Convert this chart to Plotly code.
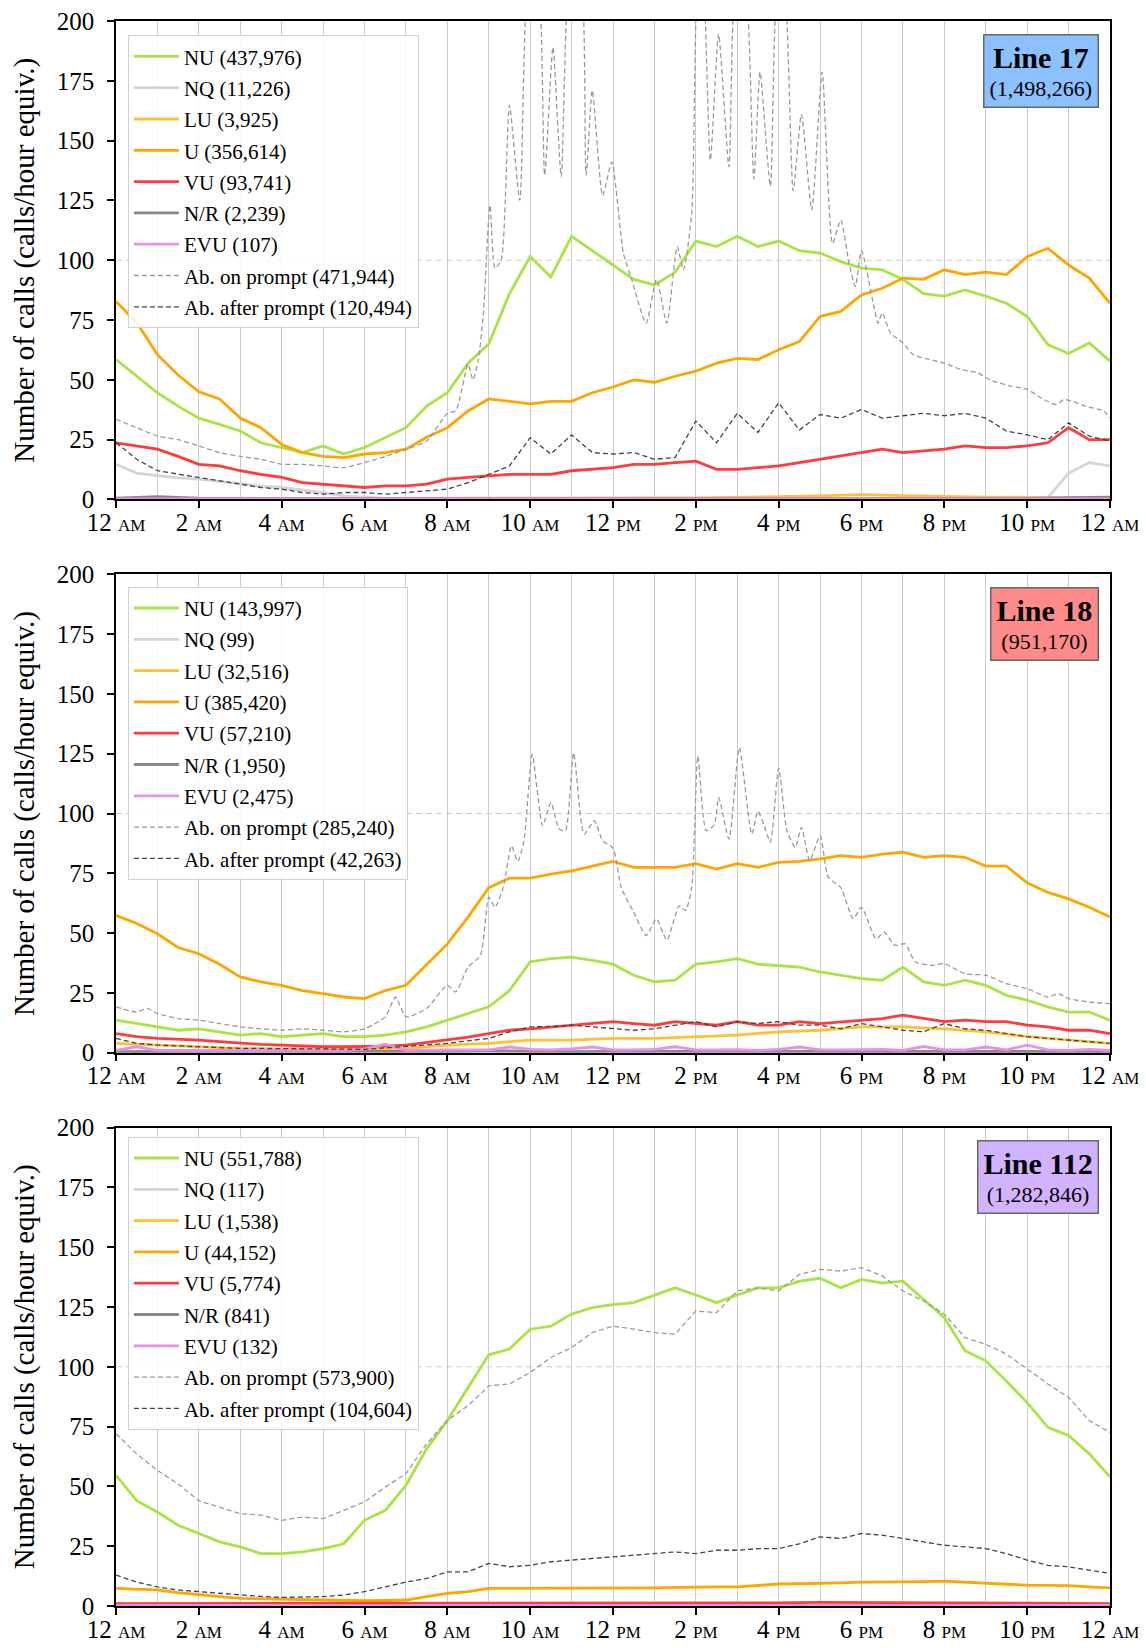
import plotly.graph_objects as go
from plotly.subplots import make_subplots

# ---------------- time grids (hours after midnight) ----------------
HOURS = [0, 0.5, 1, 1.5, 2, 2.5, 3, 3.5, 4, 4.5, 5, 5.5, 6, 6.5, 7, 7.5, 8, 8.5, 9, 9.5,
         10, 10.5, 11, 11.5, 12, 12.5, 13, 13.5, 14, 14.5, 15, 15.5, 16, 16.5, 17, 17.5,
         18, 18.5, 19, 19.5, 20, 20.5, 21, 21.5, 22, 22.5, 23, 23.5, 24]
HOURS_1H = [0, 1, 2, 3, 4, 5, 6, 7, 8, 9, 10, 11, 12, 13, 14, 15, 16, 17, 18, 19, 20, 21, 22, 23, 24]

TICK_HOURS = [0, 2, 4, 6, 8, 10, 12, 14, 16, 18, 20, 22, 24]
TICK_NUM = ["12", "2", "4", "6", "8", "10", "12", "2", "4", "6", "8", "10", "12"]
TICK_SUFFIX = ["AM", "AM", "AM", "AM", "AM", "AM", "PM", "PM", "PM", "PM", "PM", "PM", "AM"]
Y_TICKS = [0, 25, 50, 75, 100, 125, 150, 175, 200]

SERIES = ["NU", "NQ", "LU", "U", "VU", "N/R", "EVU", "Ab. on prompt", "Ab. after prompt"]

# ---------------- Line 17 ----------------
L17_TITLE = "Line 17"
L17_TOTAL = "1,498,266"
L17_COUNTS = ["437,976", "11,226", "3,925", "356,614", "93,741", "2,239", "107", "471,944", "120,494"]
L17_NU = [58.5, 51.5, 44.6, 39, 34, 31.4, 28.6, 23.7, 21.7, 19.6, 22.4, 19, 21.7, 25.8, 30, 39,
          44.6, 57, 65, 86, 101.5, 93, 110, 104, 98, 92, 89.7, 95, 108, 105.7, 110, 105.7,
          108, 104, 103, 99.4, 96.7, 96, 92, 86, 85, 87.6, 85, 82, 76.5, 64.7, 61, 65.4, 57.8]
L17_U = [82.8, 74, 60.5, 52, 45, 42, 34, 30, 23, 19.6, 18, 17.5, 19, 19.6, 21, 26, 30, 37, 42,
         41, 40, 41, 41, 44.6, 47, 50, 49, 51.5, 53.6, 57, 59, 58.5, 62.6, 66, 76.5, 78.6, 85.5,
         88.3, 92.5, 92, 96, 94, 95, 94, 101.5, 105, 98, 92.5, 82]
L17_VU = [23.7, 22.4, 21, 18, 14.7, 14, 12, 10.5, 9.2, 7, 6.4, 5.7, 5, 5.7, 5.7, 6.4, 8.5, 9.2,
          10, 10.5, 10.5, 10.5, 12, 12.6, 13.3, 14.7, 14.7, 15.4, 16, 12.6, 12.6, 13.3, 14,
          15.4, 16.8, 18.2, 19.6, 21, 19.6, 20.3, 21, 22.4, 21.7, 21.7, 22.4, 23.7, 30, 25, 25]
L17_NQ = [14.7, 11, 10, 9, 8.5, 7.5, 6.4, 5.6, 5, 4, 2.9, 1.5, 0.8, 0.4, 0.3, 0.3, 0.3, 0.3,
          0.3, 0.3, 0.3, 0.3, 0.3, 0.3, 0.3, 0.3, 0.3, 0.3, 0.3, 0.3, 0.3, 0.3, 0.3, 0.3, 0.3,
          0.3, 0.3, 0.3, 0.3, 0.3, 0.3, 0.3, 0.3, 0.3, 0.3, 0.8, 11, 15.4, 14]
L17_LU = [0.3, 0.3, 0.3, 0.3, 0.3, 0.3, 0.3, 0.3, 0.3, 0.4, 0.4, 0.5, 0.5, 0.6, 0.7, 0.8, 1.2,
          1.5, 2, 1.6, 1.2, 1, 0.9, 0.8, 0.5]
L17_NR = [0.5, 1.2, 0.5, 0.3, 0.3, 0.3, 0.3, 0.3, 0.3, 0.3, 0.3, 0.3, 0.3, 0.3, 0.3, 0.3, 0.3,
          0.3, 0.3, 0.3, 0.3, 0.3, 0.4, 0.8, 1.0]
L17_EVU = [0.2, 0.2, 0.2, 0.2, 0.2, 0.2, 0.2, 0.2, 0.2, 0.2, 0.2, 0.2, 0.2, 0.2, 0.2, 0.2, 0.2,
           0.2, 0.2, 0.2, 0.2, 0.2, 0.2, 0.2, 0.2]
L17_ABA = [23.7, 16.8, 12, 10.5, 9.2, 7.8, 6.4, 5, 4.3, 2.9, 2.2, 2.9, 2.9, 2.2, 2.9, 3.6, 4.3,
           7, 10.5, 14, 25.8, 19, 27, 19.6, 19, 19.6, 16.8, 17.5, 32.8, 23.7, 36, 28, 40.4, 29,
           35.5, 34, 37.6, 34, 35, 36, 35, 36, 34, 28.6, 27, 25, 32, 26.5, 24.4]
L17_ABO_T = [0, 0.5, 1, 1.5, 2, 2.5, 3, 3.5, 4, 4.5, 5, 5.5, 6, 6.5, 7, 7.5, 8, 8.2, 8.35, 8.5,
             8.62, 8.75, 8.87, 9.03, 9.15, 9.3, 9.5, 9.75, 10.0, 10.15, 10.35, 10.55, 10.75,
             11.0, 11.2, 11.35, 11.5, 11.75, 11.97, 12.25, 12.45, 12.8, 13.05, 13.3, 13.55,
             13.7, 13.9, 14.05, 14.15, 14.35, 14.55, 14.8, 15.0, 15.15, 15.4, 15.55, 15.8, 16.0,
             16.1, 16.35, 16.55, 16.8, 17.05, 17.3, 17.5, 17.7, 17.85, 18.0, 18.3, 18.4, 18.5,
             18.7, 19.0, 19.25, 19.65, 20.0, 20.4, 20.8, 21.1, 21.6, 22.0, 22.4, 22.7, 22.9,
             23.4, 23.85, 24]
L17_ABO = [33.5, 30, 26.5, 25, 22.4, 19.6, 18, 16.8, 14.7, 14.7, 14, 13.3, 15.4, 18, 21, 24.4,
           36, 37, 46, 56.6, 50, 58.5, 77.6, 123, 96.7, 100, 164.7, 125, 225, 225, 135.6, 189,
           135, 228, 225, 135.6, 171, 127, 141, 103, 92, 73.7, 92, 73.7, 105.7, 96, 119.6, 220,
           225, 141.8, 194.6, 139, 222, 222, 134, 178.6, 131, 220, 220, 129, 161, 121, 178.6,
           107, 116.8, 98.7, 89, 104, 80.7, 73.7, 78, 69.6, 65.4, 60.5, 58.5, 57, 54.3, 53, 50,
           47.4, 46, 41.8, 39.7, 41.8, 39, 37, 34]

# ---------------- Line 18 ----------------
L18_TITLE = "Line 18"
L18_TOTAL = "951,170"
L18_COUNTS = ["143,997", "99", "32,516", "385,420", "57,210", "1,950", "2,475", "285,240", "42,263"]
L18_NU = [13.6, 12.2, 10.8, 9.4, 10, 8.75, 7.4, 8, 6.7, 7.4, 8, 6.7, 6.7, 7.4, 8.75, 10.8, 13.6,
          16.4, 19.2, 26, 38, 39.3, 40, 38.6, 37, 32.4, 29.6, 30.3, 37, 38, 39.3, 37, 36.5, 35.8,
          33.75, 32.4, 31, 30.3, 35.8, 29.6, 28.2, 30.3, 28.2, 24, 22, 19.2, 17, 17, 13.6]
L18_U = [57.4, 54, 49.7, 44, 41.4, 37, 31.7, 29.6, 28.2, 26, 24.7, 23.3, 22.6, 26, 28.2, 37,
         45.5, 56.7, 69, 73, 73, 74.7, 76, 78, 80, 77.5, 77.5, 77.5, 79, 76.8, 79, 77.5, 79.6,
         80, 81, 82.4, 81.7, 83, 83.8, 81.7, 82.4, 81.7, 78, 78, 71, 67, 64.3, 60.8, 56.7]
L18_VU = [8, 6.7, 6, 5.7, 5.3, 4.6, 3.9, 3.5, 3.2, 2.8, 2.5, 2.5, 2.5, 2.8, 3.2, 4.2, 5.3, 6.5,
          8, 9.4, 10, 10.8, 11.5, 12.2, 13, 12.2, 11.5, 13, 12.2, 11.5, 13, 11.5, 11.5, 13, 12.2,
          13, 13.6, 14.3, 15.7, 14.3, 13, 13.6, 13, 13, 11.5, 10.8, 9.4, 9.4, 8]
L18_LU = [3.9, 3.2, 2.5, 1.8, 1.5, 1.4, 1.5, 1.8, 3.2, 3.9, 5.3, 5.3, 6, 6, 6.7, 7.4, 8.75, 9.4,
          10.8, 10.8, 10, 8.75, 6.7, 5.3, 3.9]
L18_NQ = [0.1, 0.1, 0.1, 0.1, 0.1, 0.1, 0.1, 0.1, 0.1, 0.1, 0.1, 0.1, 0.1, 0.1, 0.1, 0.1, 0.1,
          0.1, 0.1, 0.1, 0.1, 0.1, 0.1, 0.1, 0.1]
L18_NR = [0.5, 0.5, 0.5, 0.4, 0.4, 0.4, 0.4, 0.5, 0.6, 0.8, 0.6, 0.5, 0.6, 0.6, 0.5, 0.6, 0.7,
          0.6, 0.6, 0.5, 0.6, 0.5, 0.5, 0.5, 0.5]
L18_EVU = [1, 2.5, 1, 1, 0.8, 0.8, 0.8, 0.8, 0.8, 1, 1, 1, 1.5, 3.6, 1, 1.2, 1.2, 1.2, 1.2, 2.4,
           1.4, 1.2, 1.6, 2.4, 1.2, 1.2, 1.4, 2.5, 1.2, 1.2, 1.3, 1, 1.4, 2.4, 1.2, 1.2, 1.3,
           1.4, 1, 2.6, 1.2, 1.2, 2.4, 1.2, 3.2, 1.2, 1, 1.4, 1]
L18_ABA = [6, 3.9, 3.2, 2.8, 2.5, 2.1, 1.8, 1.8, 1.8, 1.6, 1.5, 1.5, 1.4, 2, 2.5, 3.2, 3.9, 5,
           6, 8.75, 10.8, 11, 11.5, 10.8, 10, 9.4, 10, 11.5, 13, 10.8, 13, 12.2, 13, 11.5, 11.5,
           10, 12.2, 10.8, 9.4, 8.75, 12.2, 10, 9.4, 8, 6.7, 6, 5.3, 4.6, 3.9]
L18_ABO_T = [0, 0.5, 0.75, 1, 1.5, 2, 2.5, 3, 3.5, 4, 4.5, 5, 5.5, 6, 6.5, 6.75, 7, 7.5, 8, 8.2,
             8.5, 8.8, 9.0, 9.15, 9.35, 9.55, 9.7, 9.85, 10.05, 10.3, 10.5, 10.7, 10.85, 11.05,
             11.3, 11.55, 11.75, 12.0, 12.2, 12.5, 12.8, 13.05, 13.3, 13.6, 13.75, 13.9, 14.05,
             14.25, 14.45, 14.55, 14.8, 15.05, 15.35, 15.5, 15.65, 15.8, 16.0, 16.2, 16.4,
             16.55, 16.75, 17.0, 17.2, 17.5, 17.8, 18.0, 18.35, 18.55, 18.8, 19.05, 19.3, 19.7,
             20.0, 20.5, 21.0, 21.5, 22.0, 22.5, 22.75, 23.0, 23.5, 24]
L18_ABO = [19.2, 17, 18.5, 16.4, 14.3, 13.6, 12.2, 10.8, 10, 9.4, 10, 9.4, 8.75, 10, 15, 23.3,
           15, 18.5, 28.2, 25.4, 35.8, 40.7, 65, 60.8, 69, 86.5, 80, 88.6, 124.7, 94.9, 104.6,
           93.5, 92.8, 125.4, 91.4, 97, 88.6, 85.5, 69, 58.8, 49, 56, 47, 61.5, 59.4, 69, 124,
           92.8, 95.5, 106.7, 89.3, 127.5, 91.4, 101, 94.9, 88, 119, 92.8, 85.8, 94.2, 80.3,
           90.7, 73.3, 69, 56, 60.8, 47.6, 50.4, 44.9, 45.5, 38, 36.5, 37.2, 33, 32.4, 28.9,
           26.8, 23.3, 24.7, 22.6, 21.2, 20.5]

# ---------------- Line 112 ----------------
L112_TITLE = "Line 112"
L112_TOTAL = "1,282,846"
L112_COUNTS = ["551,788", "117", "1,538", "44,152", "5,774", "841", "132", "573,900", "104,604"]
L112_NU = [54.6, 44, 39.3, 33.75, 30.3, 26.8, 24.7, 21.9, 21.9, 22.6, 24, 26, 35.8, 40, 50.4,
           65.7, 77.5, 91.4, 105, 107.4, 115.7, 117, 122, 124.7, 126, 126.8, 130, 133, 130,
           126.8, 130, 133, 133, 135.8, 137, 133, 136.5, 135, 135.8, 128, 120.5, 106.7, 102.5,
           94, 85, 74.7, 71.3, 63.6, 54]
L112_U = [7.4, 7, 6.7, 5.6, 4.6, 3.9, 3.2, 3, 2.9, 2.7, 2.5, 2.3, 2.2, 2.3, 2.5, 3.9, 5.3, 6, 7.4,
          7.4, 7.4, 7.4, 7.4, 7.5, 7.6, 7.6, 7.6, 7.8, 8, 8, 8, 8.6, 9.2, 9.3, 9.4, 9.7, 10, 10,
          10, 10.2, 10.4, 9.9, 9.4, 9.1, 8.75, 8.6, 8.5, 8, 7.6]
L112_VU = [1, 1, 1, 1, 1, 1, 1, 1, 1, 1, 1, 1, 1.2, 1.2, 1.2, 1.2, 1.3, 1.5, 1.5, 1.5, 1.3, 1.2,
           1.2, 1.1, 1]
L112_LU = [0.3, 0.3, 0.3, 0.3, 0.3, 0.3, 0.3, 0.3, 0.4, 0.4, 0.5, 0.5, 0.5, 0.5, 0.5, 0.5, 0.6,
           0.6, 0.6, 0.6, 0.5, 0.5, 0.4, 0.4, 0.3]
L112_NQ = [0.1, 0.1, 0.1, 0.1, 0.1, 0.1, 0.1, 0.1, 0.1, 0.1, 0.1, 0.1, 0.1, 0.1, 0.1, 0.1, 0.1,
           0.1, 0.1, 0.1, 0.1, 0.1, 0.1, 0.1, 0.1]
L112_NR = [0.2, 0.2, 0.2, 0.2, 0.2, 0.2, 0.2, 0.2, 0.3, 0.3, 0.3, 0.3, 0.3, 0.3, 0.3, 0.3, 0.3,
           0.3, 0.3, 0.3, 0.3, 0.3, 0.3, 0.2, 0.2]
L112_EVU = [0.2, 0.2, 0.2, 0.2, 0.2, 0.2, 0.2, 0.2, 0.2, 0.2, 0.2, 0.2, 0.2, 0.2, 0.2, 0.2, 0.2,
            0.2, 0.2, 0.2, 0.2, 0.2, 0.2, 0.2, 0.2]
L112_ABO = [72, 63.6, 56.7, 51, 44, 41.4, 38.6, 38, 35.8, 37.2, 36.5, 40, 43.5, 49.7, 55.3, 67.8,
            77.5, 83.75, 92, 92.8, 97.6, 103.9, 108, 114.3, 117, 115.7, 114.3, 113.6, 123.3,
            122.6, 131.7, 133, 131.7, 138.6, 140.7, 140, 141.4, 138, 131.7, 127.5, 122, 112.2,
            109.4, 105.3, 99, 92.8, 87.2, 77.5, 72.6]
L112_ABA = [12.9, 10, 8, 6.7, 6, 5.3, 4.6, 4, 3.6, 3.8, 3.9, 4.6, 6, 8, 10, 11.5, 14.3, 14.3,
            17.8, 16.4, 17, 18.5, 19.2, 19.9, 20.5, 21.2, 21.9, 22.6, 21.9, 23.3, 23.3, 24, 24,
            26, 28.9, 28.2, 30.3, 29.6, 28.2, 26.8, 25.4, 24.7, 24, 21.9, 19.2, 17, 16.4, 15,
            13.6]

# ---------------- styling ----------------
FONT = "Liberation Serif"
COLORS = {"NU": "#a8e444", "NQ": "#d4d4d4", "LU": "#ffc132", "U": "#ffa500", "VU": "#ff3c3c",
          "N/R": "#888888", "EVU": "#e690e8", "Ab. on prompt": "#9a9a9a",
          "Ab. after prompt": "#444444"}
BOX_COLORS = ["#8cc1ff", "#ff8a8a", "#d1b3ff"]

panels = [
    dict(title=L17_TITLE, total=L17_TOTAL, counts=L17_COUNTS, data={
        "NU": (HOURS, L17_NU), "NQ": (HOURS, L17_NQ), "LU": (HOURS_1H, L17_LU),
        "U": (HOURS, L17_U), "VU": (HOURS, L17_VU), "N/R": (HOURS_1H, L17_NR),
        "EVU": (HOURS_1H, L17_EVU), "Ab. on prompt": (L17_ABO_T, L17_ABO),
        "Ab. after prompt": (HOURS, L17_ABA)}),
    dict(title=L18_TITLE, total=L18_TOTAL, counts=L18_COUNTS, data={
        "NU": (HOURS, L18_NU), "NQ": (HOURS_1H, L18_NQ), "LU": (HOURS_1H, L18_LU),
        "U": (HOURS, L18_U), "VU": (HOURS, L18_VU), "N/R": (HOURS_1H, L18_NR),
        "EVU": (HOURS, L18_EVU), "Ab. on prompt": (L18_ABO_T, L18_ABO),
        "Ab. after prompt": (HOURS, L18_ABA)}),
    dict(title=L112_TITLE, total=L112_TOTAL, counts=L112_COUNTS, data={
        "NU": (HOURS, L112_NU), "NQ": (HOURS_1H, L112_NQ), "LU": (HOURS_1H, L112_LU),
        "U": (HOURS, L112_U), "VU": (HOURS_1H, L112_VU), "N/R": (HOURS_1H, L112_NR),
        "EVU": (HOURS_1H, L112_EVU), "Ab. on prompt": (HOURS, L112_ABO),
        "Ab. after prompt": (HOURS, L112_ABA)}),
]

fig = make_subplots(rows=3, cols=1, vertical_spacing=0.0472)

legend_names = ["legend", "legend2", "legend3"]
legend_tops = [0.991, 0.643, 0.296]

for i, p in enumerate(panels):
    row = i + 1
    for name, count in zip(SERIES, p["counts"]):
        xs, ys = p["data"][name]
        dashed = name.startswith("Ab.")
        spiky = name == "Ab. on prompt" and i < 2
        fig.add_trace(go.Scatter(
            x=xs, y=ys, mode="lines", name=f"{name} ({count})",
            line=dict(color=COLORS[name], width=1.3 if dashed else 2.8,
                      dash="5px,3px" if dashed else "solid",
                      shape="spline" if spiky else "linear", smoothing=0.6),
            legend=legend_names[i], legendgroup=f"p{row}_{name}",
            showlegend=True, hoverinfo="skip"), row=row, col=1)
    fig.add_hline(y=100, line=dict(color="#cfcfcf", width=1.2, dash="6px,4px"),
                  layer="below", row=row, col=1)
    xref = "x domain" if row == 1 else f"x{row} domain"
    yref = "y domain" if row == 1 else f"y{row} domain"
    fig.add_annotation(
        x=0.989, y=0.973, xref=xref, yref=yref, xanchor="right", yanchor="top",
        text=f"<span style='font-size:30px'><b>{p['title']}</b></span><br>"
             f"<span style='font-size:22px'>({p['total']})</span>",
        showarrow=False, align="center", bgcolor=BOX_COLORS[i], bordercolor="#666666",
        borderwidth=1.5, borderpad=5, font=dict(family=FONT, size=22, color="black"))

ticktext = [f"{n} <span style='font-size:17px'>{s}</span>" for n, s in zip(TICK_NUM, TICK_SUFFIX)]
for row in (1, 2, 3):
    fig.update_xaxes(
        range=[0, 24], tickmode="array", tickvals=TICK_HOURS, ticktext=ticktext,
        showgrid=True, gridcolor="#cccccc", gridwidth=1,
        minor=dict(tickmode="array", tickvals=[1, 3, 5, 7, 9, 11, 13, 15, 17, 19, 21, 23],
                   showgrid=True, gridcolor="#cccccc", gridwidth=1, ticks=""),
        showline=True, linecolor="black", linewidth=1.5, mirror=True,
        ticks="outside", ticklen=7, tickwidth=1.5, tickcolor="black", ticklabelstandoff=-7,
        ticklabeloverflow="allow",
        tickfont=dict(family=FONT, size=25, color="black"), zeroline=False, automargin=False,
        row=row, col=1)
    fig.update_yaxes(
        range=[0, 200], tickmode="array", tickvals=Y_TICKS, showgrid=False,
        showline=True, linecolor="black", linewidth=1.5, mirror=True,
        ticks="outside", ticklen=7, tickwidth=1.5, tickcolor="black", ticklabelstandoff=8,
        ticklabeloverflow="allow",
        tickfont=dict(family=FONT, size=25, color="black"), zeroline=False, automargin=False,
        title=dict(text="Number of calls (calls/hour equiv.)", standoff=20,
                   font=dict(family=FONT, size=29, color="black")),
        row=row, col=1)

legend_style = dict(x=0.012, xanchor="left", yanchor="top", bgcolor="rgba(255,255,255,0.85)",
                    bordercolor="#d0d0d0", borderwidth=1, tracegroupgap=1, itemwidth=45,
                    font=dict(family=FONT, size=21, color="black"))
# the page body adds an 8px offset, so the figure is sized/margined to compensate
fig.update_layout(
    width=1138, height=1640, margin=dict(l=108, r=36, t=13, b=42),
    plot_bgcolor="white", paper_bgcolor="white",
    font=dict(family=FONT, color="black"),
    legend=dict(y=legend_tops[0], **legend_style),
    legend2=dict(y=legend_tops[1], **legend_style),
    legend3=dict(y=legend_tops[2], **legend_style),
)

fig.write_html("out.html")
